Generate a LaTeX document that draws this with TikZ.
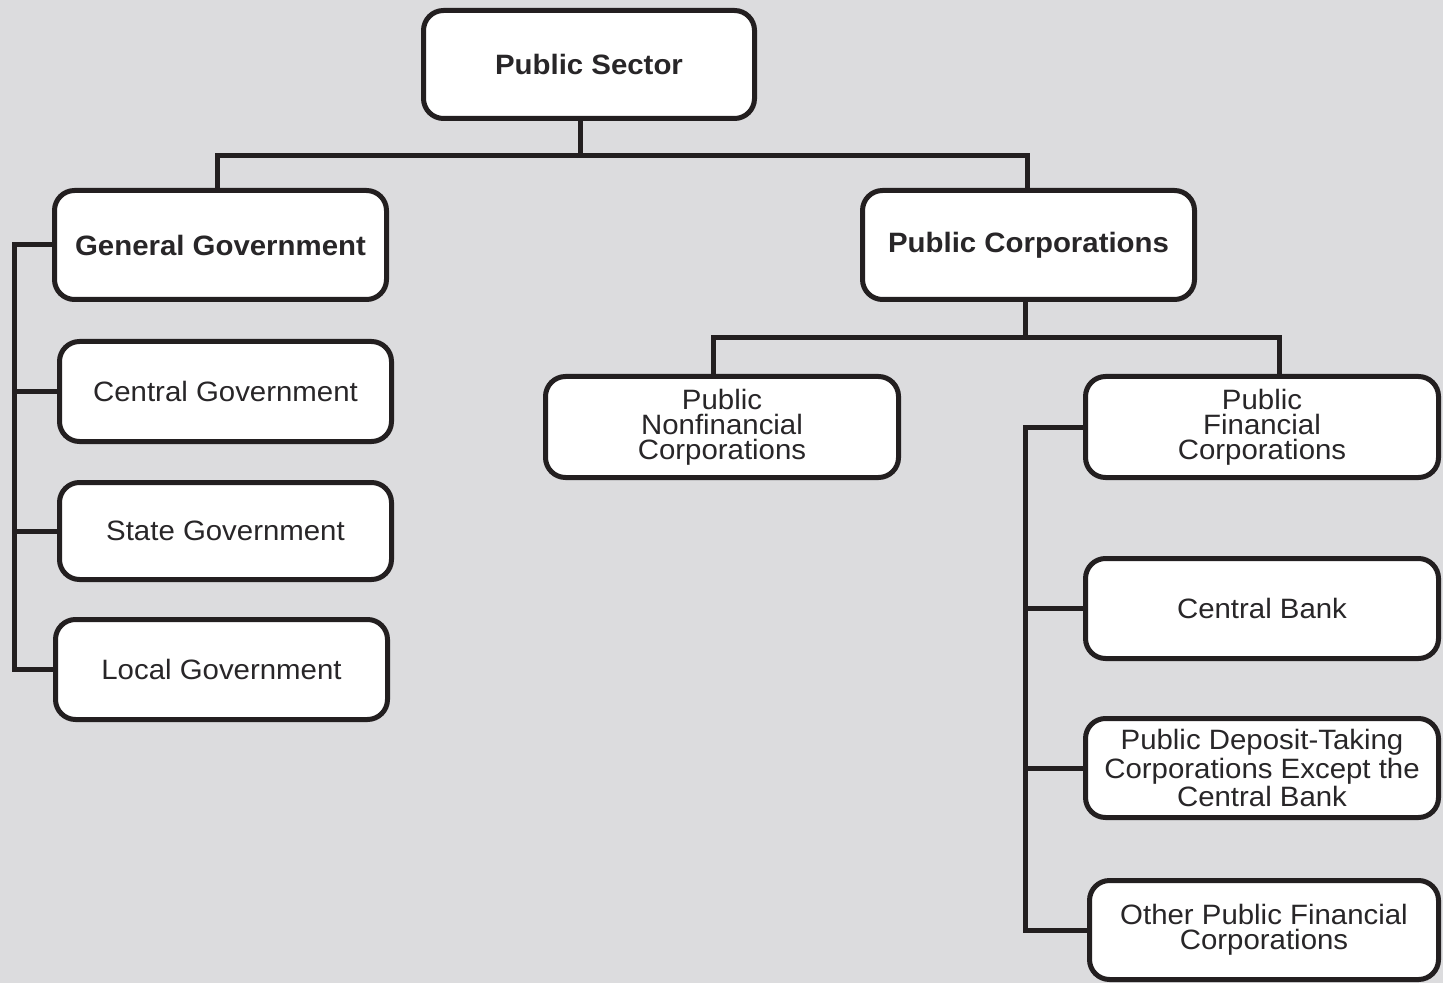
\documentclass[tikz,border=0pt]{standalone}
\usepackage{fontspec}
\setmainfont{Liberation Sans}[FakeStretch=1.05]
\definecolor{bgc}{RGB}{220,220,222}
\definecolor{ink}{RGB}{35,31,32}
\definecolor{txt}{RGB}{40,38,40}
\begin{document}
\begin{tikzpicture}[x=0.5pt,y=-0.5pt,
  orgbox/.style={draw=ink, line width=2.5pt, fill=white, rounded corners=10pt,
    inner sep=0pt, align=center, text=txt,
    font=\fontsize{14}{12.5}\selectfont},
  bw/.style={minimum width=166pt},
  nw/.style={minimum width=176.5pt},
  conn/.style={draw=ink, line width=2.5pt, line join=miter}]
\useasboundingbox (0,0) rectangle (1443,983);
\fill[bgc] (0,0) rectangle (1443,983);

% nodes
\node[orgbox, minimum width=165.5pt, minimum height=54pt] (ps) at (589,64.5) {\bfseries Public Sector};
\node[orgbox, bw, minimum height=54.5pt] (gg) at (220.5,245) {\bfseries General Government};
\node[orgbox, bw, minimum height=50pt] (cg) at (225.5,391.5) {Central Government};
\node[orgbox, bw, minimum height=48.5pt] (sg) at (225.5,531) {State Government};
\node[orgbox, bw, minimum height=50pt] (lg) at (221.5,669.5) {Local Government};
\node[orgbox, bw, minimum height=54.5pt] (pc) at (1028.5,245) {\bfseries Public Corporations};
\node[orgbox, nw, minimum height=50.5pt] (pnc) at (722,427) {Public\\Nonfinancial\\Corporations};
\node[orgbox, nw, minimum height=50.5pt] (pfc) at (1262,427) {Public\\Financial\\Corporations};
\node[orgbox, nw, minimum height=50pt] (cb) at (1262,608.5) {Central Bank};
\node[orgbox, nw, minimum height=49.5pt] (pdt) at (1262,768) {Public Deposit-Taking\\Corporations Except the\\Central Bank};
\node[orgbox, minimum width=174.5pt, minimum height=49.5pt] (opf) at (1264,930) {Other Public Financial\\Corporations};

% top level connectors
\coordinate (m1) at (580,156);
\coordinate (l1) at (217,156);
\coordinate (r1) at (1027,156);
\draw[conn] (ps.south -| m1) -- (m1);
\draw[conn] (gg.north -| l1) -- (l1) -- (r1) -- (pc.north -| r1);

% public corporations connectors
\coordinate (m2) at (1025,338);
\coordinate (l2) at (713,338);
\coordinate (r2) at (1279,338);
\draw[conn] (pc.south -| m2) -- (m2);
\draw[conn] (pnc.north -| l2) -- (l2) -- (r2) -- (pfc.north -| r2);

% left bus
\coordinate (lb) at (14,0);
\draw[conn] (gg.west) -- (gg.west -| lb) -- (lg.west -| lb) -- (lg.west);
\draw[conn] (cg.west) -- (cg.west -| lb);
\draw[conn] (sg.west) -- (sg.west -| lb);

% right bus
\coordinate (rb) at (1025,0);
\draw[conn] (pfc.west) -- (pfc.west -| rb) -- (opf.west -| rb) -- (opf.west);
\draw[conn] (cb.west) -- (cb.west -| rb);
\draw[conn] (pdt.west) -- (pdt.west -| rb);
\end{tikzpicture}
\end{document}
